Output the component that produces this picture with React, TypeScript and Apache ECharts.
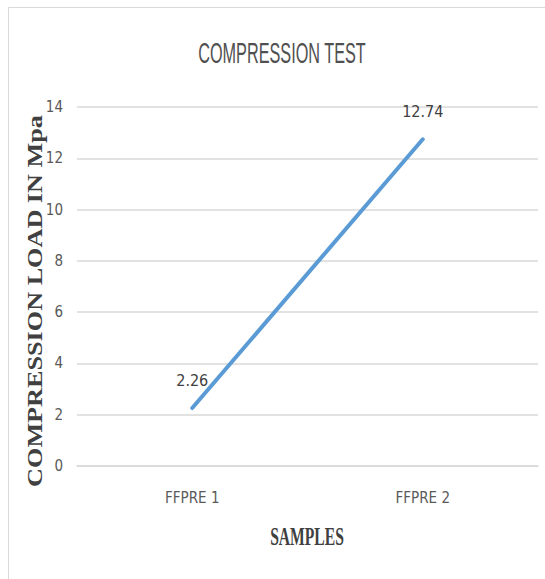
import React, { useEffect, useRef } from "react";
import * as echarts from "echarts";

const categories = ["FFPRE 1", "FFPRE 2"];
const loadValues = [2.26, 12.74];
const yTicks = { min: 0, max: 14, interval: 2 };
const titleText = "COMPRESSION TEST";
const xName = "SAMPLES";
const yName = "COMPRESSION LOAD IN Mpa";

const narrow = "'Liberation Sans Narrow', 'DejaVu Sans Condensed', 'Liberation Sans', sans-serif";

export default function App() {
  const ref = useRef<HTMLDivElement>(null);
  useEffect(() => {
    if (!ref.current) return;
    const chart = echarts.init(ref.current, undefined, { renderer: "svg" });
    chart.setOption({
      animation: false,
      backgroundColor: "#ffffff",
      grid: { left: 77, right: 7, top: 107, bottom: 113, containLabel: false },
      xAxis: {
        type: "category",
        data: categories,
        boundaryGap: true,
        axisLine: { show: true, lineStyle: { color: "#d9d9d9", width: 1.5 } },
        axisTick: { show: false },
        axisLabel: { color: "#595959", fontFamily: narrow, fontSize: 15, margin: 24 },
        splitLine: { show: false },
      },
      yAxis: {
        type: "value",
        min: yTicks.min,
        max: yTicks.max,
        interval: yTicks.interval,
        axisLine: { show: false },
        axisTick: { show: false },
        axisLabel: { color: "#595959", fontFamily: narrow, fontSize: 15, margin: 14 },
        splitLine: { show: true, lineStyle: { color: "#d9d9d9", width: 1.5 } },
      },
      series: [
        {
          type: "line",
          data: loadValues,
          symbol: "circle",
          symbolSize: 0,
          lineStyle: { color: "#5b9bd5", width: 4, cap: "round" },
          itemStyle: { color: "#5b9bd5" },
          label: {
            show: true,
            position: "top",
            distance: 20,
            color: "#404040",
            fontFamily: narrow,
            fontSize: 16,
          },
        },
      ],
      graphic: [
        {
          type: "rect",
          shape: { x: 8.5, y: 7.5, width: 600, height: 600 },
          style: { fill: "none", stroke: "#d9d9d9", lineWidth: 1 },
          silent: true,
        },
        {
          type: "text",
          x: 282,
          y: 53,
          scaleX: 0.56,
          style: {
            text: titleText,
            fill: "#505050",
            font: "29px 'Liberation Sans', sans-serif",
            textAlign: "center",
            textVerticalAlign: "middle",
          },
        },
        {
          type: "text",
          x: 307,
          y: 537,
          scaleX: 0.6,
          style: {
            text: xName,
            fill: "#404040",
            font: "bold 26px 'Liberation Serif', serif",
            textAlign: "center",
            textVerticalAlign: "middle",
          },
        },
        {
          type: "text",
          x: 35,
          y: 301,
          rotation: Math.PI / 2,
          scaleX: 1.31,
          style: {
            text: yName,
            fill: "#404040",
            font: "bold 20px 'Liberation Serif', serif",
            textAlign: "center",
            textVerticalAlign: "middle",
          },
        },
      ],
    });
    return () => chart.dispose();
  }, []);
  return (
    <div
      ref={ref}
      style={{ position: "fixed", left: 0, top: 0, width: 545, height: 579, background: "#fff" }}
    />
  );
}
